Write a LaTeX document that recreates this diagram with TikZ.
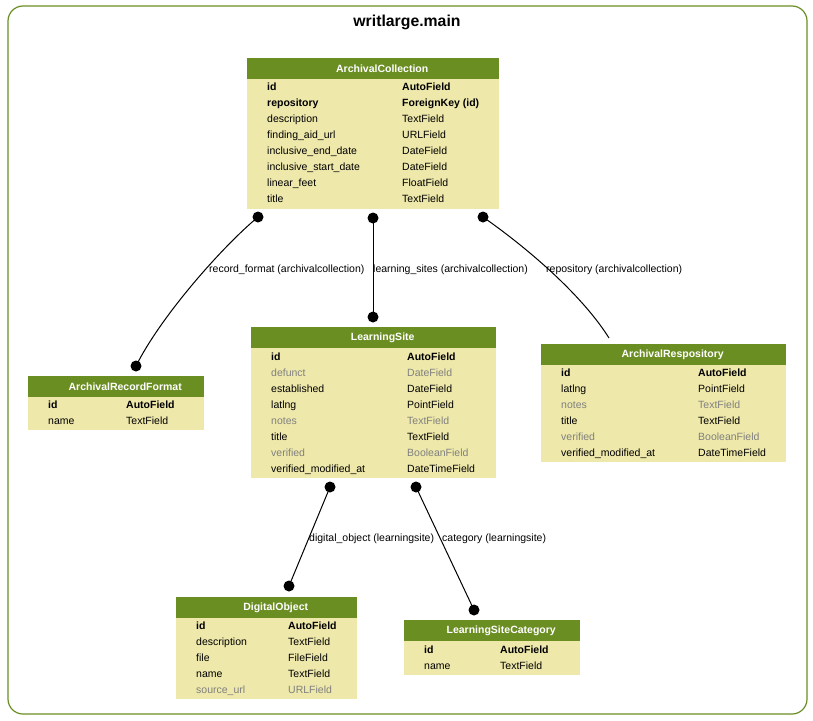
\documentclass[tikz,border=0pt]{standalone}
\usepackage{fontspec}
\setmainfont{Liberation Sans}
\definecolor{hdrgreen}{HTML}{6B8E23}
\definecolor{bodyyel}{HTML}{EEE8AA}
\definecolor{fgray}{HTML}{808080}
\newcommand\frow[6]{%
  \node[fld] (#1l) at (#2,#4+4) {#5};
  \node[fld] (#1r) at (#3,#4+4) {#6};}
\newcommand\gr[1]{\textcolor{fgray}{#1}}
\begin{document}
\begin{tikzpicture}[x=1pt,y=-1pt,font=\fontsize{10.5}{12.6}\selectfont]
\tikzset{
  frame/.style={draw=hdrgreen, line width=1.2pt, rounded corners=15pt},
  hdr/.style={fill=hdrgreen, inner sep=0pt, anchor=north west},
  hdrtext/.style={text=white, font=\fontsize{10.5}{12.6}\selectfont\bfseries, inner sep=0pt},
  tbody/.style={fill=bodyyel, inner sep=0pt, anchor=north west},
  fld/.style={anchor=base west, inner sep=0pt},
  dot/.style={circle, fill=black, inner sep=0pt, minimum size=11pt},
  rel/.style={draw=black, line width=1pt},
  rlabel/.style={anchor=base west, inner sep=0pt}
}
\useasboundingbox (0,0) rectangle (813,720);
\fill[white] (0,0) rectangle (813,720);
\draw[frame] (8,6) rectangle (807,714);
\node[font=\fontsize{15.8}{18}\selectfont\bfseries, inner sep=0pt] (title) at (407,22) {writlarge.main};

% ArchivalCollection
\node[hdr, minimum width=252pt, minimum height=21pt] (acH) at (247,58) {};
\node[hdrtext] (acT) at ([xshift=9pt]acH.center) {ArchivalCollection};
\node[tbody, minimum width=252pt, minimum height=130pt] (acB) at (247,79) {};
\frow{ac1}{267}{402}{86}{\textbf{id}}{\textbf{AutoField}}
\frow{ac2}{267}{402}{102}{\textbf{repository}}{\textbf{ForeignKey (id)}}
\frow{ac3}{267}{402}{118}{description}{TextField}
\frow{ac4}{267}{402}{134}{finding\_aid\_url}{URLField}
\frow{ac5}{267}{402}{150}{inclusive\_end\_date}{DateField}
\frow{ac6}{267}{402}{166}{inclusive\_start\_date}{DateField}
\frow{ac7}{267}{402}{182}{linear\_feet}{FloatField}
\frow{ac8}{267}{402}{198}{title}{TextField}

% ArchivalRecordFormat
\node[hdr, minimum width=176pt, minimum height=21pt] (arfH) at (28,376) {};
\node[hdrtext] (arfT) at ([xshift=9pt]arfH.center) {ArchivalRecordFormat};
\node[tbody, minimum width=176pt, minimum height=33pt] (arfB) at (28,397) {};
\frow{arf1}{48}{126}{404}{\textbf{id}}{\textbf{AutoField}}
\frow{arf2}{48}{126}{420}{name}{TextField}

% LearningSite
\node[hdr, minimum width=245pt, minimum height=21pt] (lsH) at (251,327) {};
\node[hdrtext] (lsT) at ([xshift=9pt]lsH.center) {LearningSite};
\node[tbody, minimum width=245pt, minimum height=130pt] (lsB) at (251,348) {};
\frow{ls1}{271}{407}{356}{\textbf{id}}{\textbf{AutoField}}
\frow{ls2}{271}{407}{372}{\gr{defunct}}{\gr{DateField}}
\frow{ls3}{271}{407}{388}{established}{DateField}
\frow{ls4}{271}{407}{404}{latlng}{PointField}
\frow{ls5}{271}{407}{420}{\gr{notes}}{\gr{TextField}}
\frow{ls6}{271}{407}{436}{title}{TextField}
\frow{ls7}{271}{407}{452}{\gr{verified}}{\gr{BooleanField}}
\frow{ls8}{271}{407}{468}{verified\_modified\_at}{DateTimeField}

% ArchivalRespository
\node[hdr, minimum width=245pt, minimum height=21pt] (arH) at (541,344) {};
\node[hdrtext] (arT) at ([xshift=9pt]arH.center) {ArchivalRespository};
\node[tbody, minimum width=245pt, minimum height=97pt] (arB) at (541,365) {};
\frow{ar1}{561}{698}{372}{\textbf{id}}{\textbf{AutoField}}
\frow{ar2}{561}{698}{388}{latlng}{PointField}
\frow{ar3}{561}{698}{404}{\gr{notes}}{\gr{TextField}}
\frow{ar4}{561}{698}{420}{title}{TextField}
\frow{ar5}{561}{698}{436}{\gr{verified}}{\gr{BooleanField}}
\frow{ar6}{561}{698}{452}{verified\_modified\_at}{DateTimeField}

% DigitalObject
\node[hdr, minimum width=181pt, minimum height=21pt] (doH) at (176,597) {};
\node[hdrtext] (doT) at ([xshift=9pt]doH.center) {DigitalObject};
\node[tbody, minimum width=181pt, minimum height=81pt] (doB) at (176,618) {};
\frow{do1}{196}{288}{625}{\textbf{id}}{\textbf{AutoField}}
\frow{do2}{196}{288}{641}{description}{TextField}
\frow{do3}{196}{288}{657}{file}{FileField}
\frow{do4}{196}{288}{673}{name}{TextField}
\frow{do5}{196}{288}{689}{\gr{source\_url}}{\gr{URLField}}

% LearningSiteCategory
\node[hdr, minimum width=176pt, minimum height=21pt] (lscH) at (404,620) {};
\node[hdrtext] (lscT) at ([xshift=9pt]lscH.center) {LearningSiteCategory};
\node[tbody, minimum width=176pt, minimum height=34pt] (lscB) at (404,641) {};
\frow{lsc1}{424}{500}{649}{\textbf{id}}{\textbf{AutoField}}
\frow{lsc2}{424}{500}{665}{name}{TextField}

% relations
\node[dot] (d1) at (258,217) {};
\node[dot] (d2) at (136,366) {};
\node[dot] (d3) at (373,218) {};
\node[dot] (d4) at (373,317) {};
\node[dot] (d5) at (483,217) {};
\coordinate (e5) at (609,338);
\node[dot] (d6) at (330,487) {};
\node[dot] (d7) at (289,586) {};
\node[dot] (d8) at (416,487) {};
\node[dot] (d9) at (474,610) {};

\draw[rel] (d1.center) .. controls (222,247) and (161,316) .. (d2.center);
\draw[rel] (d3.center) -- (d4.center);
\draw[rel] (d5.center) .. controls (533,252) and (584,298) .. (e5);
\draw[rel] (d6.center) -- (d7.center);
\draw[rel] (d8.center) -- (d9.center);

\node[rlabel] (l1) at (209,272) {record\_format (archivalcollection)};
\node[rlabel] (l2) at (373,272) {learning\_sites (archivalcollection)};
\node[rlabel] (l3) at (546,272) {repository (archivalcollection)};
\node[rlabel] (l4) at (309,541) {digital\_object (learningsite)};
\node[rlabel] (l5) at (442,541) {category (learningsite)};
\end{tikzpicture}
\end{document}
